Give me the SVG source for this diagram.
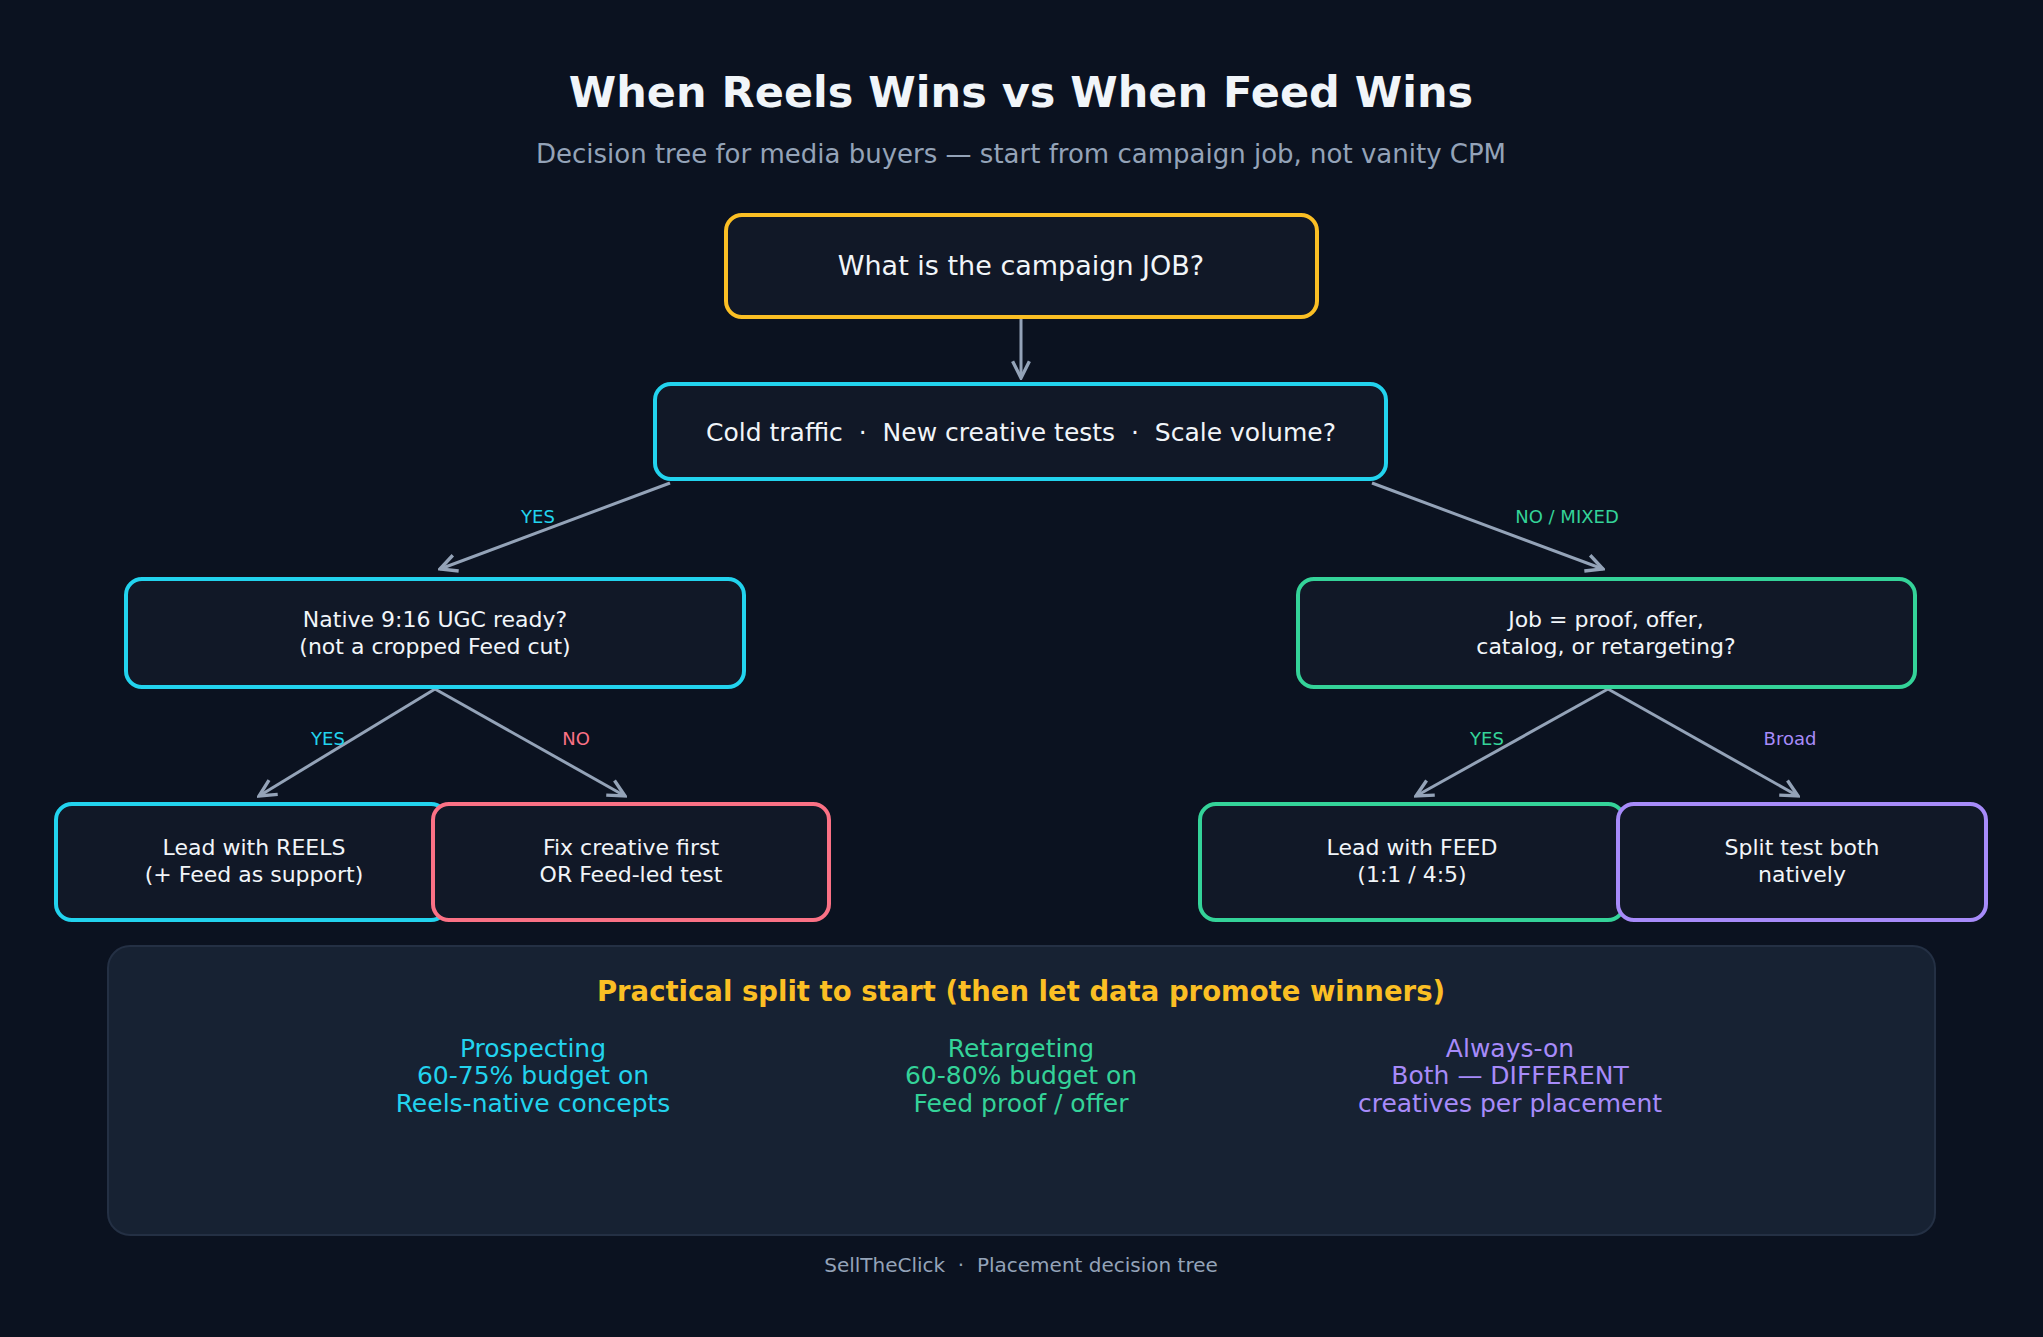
<svg xmlns="http://www.w3.org/2000/svg" width="2043" height="1337" viewBox="0 0 2043 1337">
<defs>
<marker id="ah" viewBox="0 0 10 10" refX="9" refY="5" markerWidth="7" markerHeight="7" orient="auto"><path d="M1,1 L9,5 L1,9" fill="none" stroke="#94a3b8" stroke-width="1.6"/></marker>
<style>
text{font-family:"DejaVu Sans","Noto Sans",sans-serif;text-anchor:middle}
.box{fill:#111827;stroke-width:4}
.t{fill:#f1f5f9;font-size:22px}
.lbl{font-size:18px}
.c line{stroke:#94a3b8;stroke-width:3;marker-end:url(#ah)}
.col{font-size:25px}
</style>
</defs>
<rect width="2043" height="1337" fill="#0b1220"/>
<text x="1021" y="107" font-size="43" font-weight="bold" fill="#f1f5f9">When Reels Wins vs When Feed Wins</text>
<text x="1021" y="163" font-size="26" fill="#94a3b8">Decision tree for media buyers — start from campaign job, not vanity CPM</text>
<g class="c" id="connectors">
<line x1="1021" y1="317" x2="1021" y2="378"/>
<line x1="670" y1="483" x2="440" y2="569"/>
<line x1="1372" y1="483" x2="1603" y2="569"/>
<line x1="435" y1="689" x2="259" y2="796"/>
<line x1="435" y1="689" x2="625" y2="796"/>
<line x1="1608" y1="689" x2="1416" y2="796"/>
<line x1="1608" y1="689" x2="1798" y2="796"/>
<text class="lbl" x="538" y="523" fill="#22d3ee">YES</text>
<text class="lbl" x="1567" y="523" fill="#34d399">NO / MIXED</text>
<text class="lbl" x="328" y="745" fill="#22d3ee">YES</text>
<text class="lbl" x="576" y="745" fill="#fb7185">NO</text>
<text class="lbl" x="1487" y="745" fill="#34d399">YES</text>
<text class="lbl" x="1790" y="745" fill="#a78bfa">Broad</text>
</g>
<g id="root"><rect class="box" x="726" y="215" width="591" height="102" rx="16" stroke="#fbbf24"/><text class="t" x="1021" y="275" style="font-size:27px">What is the campaign JOB?</text></g>
<g id="q1"><rect class="box" x="655" y="384" width="731" height="95" rx="16" stroke="#22d3ee"/><text class="t" x="1021" y="441" style="font-size:25px" xml:space="preserve">Cold traffic  ·  New creative tests  ·  Scale volume?</text></g>
<g id="qleft"><rect class="box" x="126" y="579" width="618" height="108" rx="16" stroke="#22d3ee"/><text class="t" x="435" y="627">Native 9:16 UGC ready?</text><text class="t" x="435" y="654">(not a cropped Feed cut)</text></g>
<g id="qright"><rect class="box" x="1298" y="579" width="617" height="108" rx="16" stroke="#34d399"/><text class="t" x="1606" y="627">Job = proof, offer,</text><text class="t" x="1606" y="654">catalog, or retargeting?</text></g>
<g id="reels"><rect class="box" x="56" y="804" width="391" height="116" rx="16" stroke="#22d3ee"/><text class="t" x="254" y="855">Lead with REELS</text><text class="t" x="254" y="882">(+ Feed as support)</text></g>
<g id="fix"><rect class="box" x="433" y="804" width="396" height="116" rx="16" stroke="#fb7185"/><text class="t" x="631" y="855">Fix creative first</text><text class="t" x="631" y="882">OR Feed-led test</text></g>
<g id="feed"><rect class="box" x="1200" y="804" width="424" height="116" rx="16" stroke="#34d399"/><text class="t" x="1412" y="855">Lead with FEED</text><text class="t" x="1412" y="882">(1:1 / 4:5)</text></g>
<g id="split"><rect class="box" x="1618" y="804" width="368" height="116" rx="16" stroke="#a78bfa"/><text class="t" x="1802" y="855">Split test both</text><text class="t" x="1802" y="882">natively</text></g>
<g id="panel">
<rect x="108" y="946" width="1827" height="289" rx="22" fill="#172233" stroke="#243044" stroke-width="2"/>
<text x="1021" y="1001" font-size="27.5" font-weight="bold" fill="#fbbf24">Practical split to start (then let data promote winners)</text>
<g class="col" fill="#22d3ee"><text x="533" y="1057">Prospecting</text><text x="533" y="1084">60-75% budget on</text><text x="533" y="1112">Reels-native concepts</text></g>
<g class="col" fill="#34d399"><text x="1021" y="1057">Retargeting</text><text x="1021" y="1084">60-80% budget on</text><text x="1021" y="1112">Feed proof / offer</text></g>
<g class="col" fill="#a78bfa"><text x="1510" y="1057">Always-on</text><text x="1510" y="1084">Both — DIFFERENT</text><text x="1510" y="1112">creatives per placement</text></g>
</g>
<text x="1021" y="1272" font-size="20" fill="#94a3b8" xml:space="preserve">SellTheClick  ·  Placement decision tree</text>
</svg>
